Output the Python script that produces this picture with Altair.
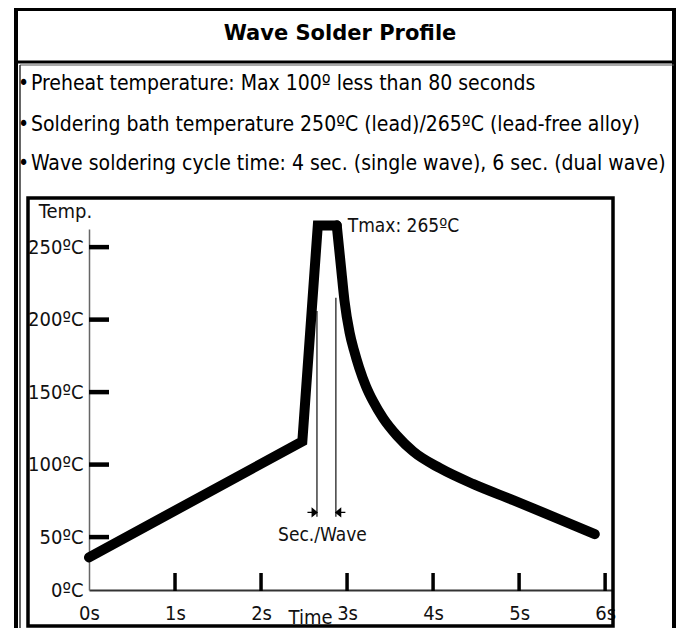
import altair as alt
import pandas as pd

# ---------------- data ----------------
# preheat + rise + peak (straight segments)
RISE_TIME = [0.0, 2.48, 2.66, 2.88]
RISE_TEMP = [36, 116, 265, 265]
# cooling (smooth)
COOL_TIME = [2.88, 2.93, 2.97, 3.03, 3.08, 3.14, 3.22, 3.30, 3.42, 3.58,
             3.77, 4.08, 4.47, 4.93, 5.40, 5.88]
COOL_TEMP = [265, 236, 213, 191, 179, 167, 154, 144, 132, 120,
             109, 97.5, 86.5, 75.5, 64, 52]

Y_TICKS = [50, 100, 150, 200, 250]
X_TICKS = [1, 2, 3, 4, 5, 6]
X_LABELS = [0, 1, 2, 3, 4, 5, 6]
Y_MIN, Y_MAX = 13.5, 262.5
X_MIN, X_MAX = 0.0, 6.08

WAVE_T = [2.65, 2.87]
WAVE_TOP = [206, 215]
WAVE_BOTTOM = [64, 64]
WAVE_ARROW_TEMP = 67
TMAX = 265

TITLE = "Wave Solder Profile"
BULLETS = [
    "\u2022\u200aPreheat temperature: Max 100\u00ba less than 80 seconds",
    "\u2022\u200aSoldering bath temperature 250\u00baC (lead)/265\u00baC (lead-free alloy)",
    "\u2022\u200aWave soldering cycle time: 4 sec. (single wave), 6 sec. (dual wave)",
]

# ---------------- layout ----------------
W, H = 523, 361
PAD = {"left": 81, "top": 221, "right": 64, "bottom": 38}
FONT = "DejaVu Sans Condensed, Liberation Sans Narrow, Arial Narrow, sans-serif"
TXT = "#111111"

xs = alt.Scale(domain=[X_MIN, X_MAX], nice=False, zero=False)
ys = alt.Scale(domain=[Y_MIN, Y_MAX], nice=False, zero=False)

rise_df = pd.DataFrame({"t": RISE_TIME, "temp": RISE_TEMP})
cool_df = pd.DataFrame({"t": COOL_TIME, "temp": COOL_TEMP})
one = pd.DataFrame({"a": [0]})

x_axis = alt.Axis(values=X_LABELS, labelExpr="datum.value + 's'", ticks=False, grid=False,
                  domainColor="#333333", domainWidth=2, labelFont=FONT, labelFontSize=20,
                  labelColor=TXT, labelPadding=13, labelFlush=False,
                  title="Time", titleX=221, titleY=27, titleAlign="center",
                  titleBaseline="middle", titleFont=FONT, titleFontSize=20,
                  titleFontWeight="normal", titleColor=TXT)
y_axis = alt.Axis(values=[Y_MIN] + Y_TICKS,
                  labelExpr="datum.value < 20 ? '0\u00baC' : datum.value + '\u00baC'",
                  ticks=False, grid=False, domainColor="#666666", domainWidth=1.5,
                  labelFont=FONT, labelFontSize=20, labelColor=TXT, labelPadding=6,
                  labelFlush=False, labelOverlap=False,
                  title="Temp.", titleAngle=0, titleX=-24, titleY=-18, titleAlign="center",
                  titleBaseline="middle", titleFont=FONT, titleFontSize=20,
                  titleFontWeight="normal", titleColor=TXT)

rise = alt.Chart(rise_df).mark_line(color="black", strokeWidth=10, strokeJoin="miter",
                                    strokeCap="round", clip=False).encode(
    x=alt.X("t:Q", scale=xs, axis=x_axis),
    y=alt.Y("temp:Q", scale=ys, axis=y_axis),
    order="t:Q",
)
cool = alt.Chart(cool_df).mark_line(color="black", strokeWidth=10, strokeJoin="round",
                                    strokeCap="round", interpolate="monotone",
                                    clip=False).encode(
    x=alt.X("t:Q", scale=xs),
    y=alt.Y("temp:Q", scale=ys),
    order="t:Q",
)

yt = alt.Chart(pd.DataFrame({"v": Y_TICKS})).mark_tick(
    orient="horizontal", size=20, thickness=4.5, color="black", opacity=1).encode(
    y=alt.Y("v:Q", scale=ys), x=alt.value(10))
xt = alt.Chart(pd.DataFrame({"v": X_TICKS})).mark_tick(
    orient="vertical", size=18, thickness=3.5, color="black", opacity=1).encode(
    x=alt.X("v:Q", scale=xs), y=alt.value(H - 8))

wave_df = pd.DataFrame({"t": WAVE_T, "top": WAVE_TOP, "bot": WAVE_BOTTOM})
wave_lines = alt.Chart(wave_df).mark_rule(color="#222222", strokeWidth=1.3).encode(
    x=alt.X("t:Q", scale=xs), y=alt.Y("top:Q", scale=ys), y2="bot:Q")

arr_r = alt.Chart(pd.DataFrame({"t": [WAVE_T[0]], "temp": [WAVE_ARROW_TEMP]})).mark_point(
    shape="M -2 0 L 0 0 M 0 0 L -1 -0.8 L -1 0.8 Z", size=90, filled=True,
    color="black", stroke="black", strokeWidth=1.3, opacity=1).encode(
    x=alt.X("t:Q", scale=xs), y=alt.Y("temp:Q", scale=ys))
arr_l = alt.Chart(pd.DataFrame({"t": [WAVE_T[1]], "temp": [WAVE_ARROW_TEMP]})).mark_point(
    shape="M 2 0 L 0 0 M 0 0 L 1 -0.8 L 1 0.8 Z", size=90, filled=True,
    color="black", stroke="black", strokeWidth=1.3, opacity=1).encode(
    x=alt.X("t:Q", scale=xs), y=alt.Y("temp:Q", scale=ys))

wave_lbl = alt.Chart(pd.DataFrame({"t": [sum(WAVE_T) / 2], "temp": [WAVE_BOTTOM[0]],
                                   "s": ["Sec./Wave"]})).mark_text(
    font=FONT, fontSize=19, color=TXT, align="center", baseline="top", dx=-4, dy=9).encode(
    x=alt.X("t:Q", scale=xs), y=alt.Y("temp:Q", scale=ys), text="s:N")

tmax_lbl = alt.Chart(pd.DataFrame({"t": [RISE_TIME[3]], "temp": [TMAX],
                                   "s": ["Tmax: 265\u00baC"]})).mark_text(
    font=FONT, fontSize=19, color=TXT, align="left", baseline="middle", dx=11, dy=1).encode(
    x=alt.X("t:Q", scale=xs), y=alt.Y("temp:Q", scale=ys), text="s:N")

# ---------------- decorations (page layout) ----------------
deco = []
# plot frame
deco.append(alt.Chart(one).mark_rect(fillOpacity=0, stroke="black", strokeWidth=3.5).encode(
    x=alt.value(-61), x2=alt.value(524), y=alt.value(-31), y2=alt.value(397)))
# outer box
deco.append(alt.Chart(one).mark_rect(fillOpacity=0, stroke="black", strokeWidth=4).encode(
    x=alt.value(-73), x2=alt.value(585), y=alt.value(-220), y2=alt.value(480)))
# title separator
deco.append(alt.Chart(one).mark_rule(color="black", strokeWidth=3).encode(
    x=alt.value(-73), x2=alt.value(585), y=alt.value(-167)))
deco.append(alt.Chart(one).mark_rule(color="#555555", strokeWidth=1).encode(
    x=alt.value(-69), x2=alt.value(585), y=alt.value(-164)))
# inner thin line at left
deco.append(alt.Chart(one).mark_rule(color="#333333", strokeWidth=1.5).encode(
    x=alt.value(-69), y=alt.value(-164), y2=alt.value(480)))
# title
deco.append(alt.Chart(one).mark_text(font="DejaVu Sans", fontSize=21, fontWeight="bold",
                                     color="black", align="center", baseline="middle").encode(
    x=alt.value(251), y=alt.value(-195), text=alt.value(TITLE)))
BULLET_Y = [-145, -104, -65]
for s, yy in zip(BULLETS, BULLET_Y):
    deco.append(alt.Chart(one).mark_text(font=FONT, fontSize=21, color="black",
                                         align="left", baseline="middle").encode(
        x=alt.value(-71), y=alt.value(yy), text=alt.value(s)))

chart = alt.layer(*deco, wave_lines, arr_r, arr_l, rise, cool, yt, xt,
                  wave_lbl, tmax_lbl).properties(
    width=W, height=H,
    autosize=alt.AutoSizeParams(type="none"),
    padding=PAD,
    background="white",
).configure_view(strokeWidth=0)

chart.save("out.html", embed_options={"renderer": "svg", "actions": False})
